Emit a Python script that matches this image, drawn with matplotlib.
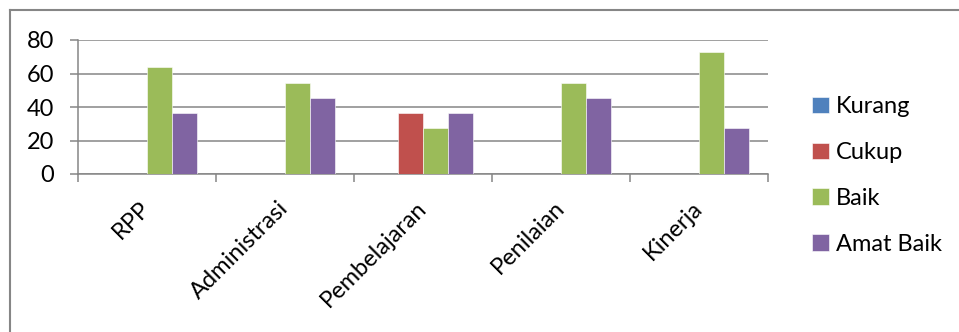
import matplotlib
import matplotlib.pyplot as plt
import numpy as np
from matplotlib.lines import Line2D

matplotlib.use("Agg")

categories = ["RPP", "Administrasi", "Pembelajaran", "Penilaian", "Kinerja"]
series_names = ["Kurang", "Cukup", "Baik", "Amat Baik"]
kurang = [0, 0, 0, 0, 0]
cukup = [0, 0, 36.4, 0, 0]
baik = [63.6, 54.5, 27.3, 54.5, 72.7]
amat_baik = [36.4, 45.5, 36.4, 45.5, 27.3]
y_ticks = [0, 20, 40, 60, 80]

COLORS = ["#4F81BD", "#C0504D", "#9BBB59", "#8064A2"]
GRID_COLOR = "#868686"
FONT_SIZE = 17

plt.rcParams["font.family"] = ["Lato", "DejaVu Sans"]

fig = plt.figure(figsize=(9.59, 3.32), dpi=100)
ax = fig.add_axes([78 / 959, 1 - 174 / 332, 690 / 959, 134 / 332])

x = np.arange(len(categories))
width = 25 / 138
for i, (name, vals) in enumerate(zip(series_names, [kurang, cukup, baik, amat_baik])):
    ax.bar(x + (i - 1.5) * width, vals, width, color=COLORS[i], label=name,
           edgecolor="white", linewidth=0.4, zorder=3)

ax.set_xlim(-0.5, len(categories) - 0.5)
ax.set_ylim(0, 80)
ax.set_yticks(y_ticks)
ax.yaxis.grid(True, color=GRID_COLOR, linewidth=1.1, zorder=0)
ax.set_axisbelow(True)

for side in ["top", "right"]:
    ax.spines[side].set_visible(False)
ax.spines["left"].set_color(GRID_COLOR)
ax.spines["bottom"].set_color(GRID_COLOR)
ax.spines["left"].set_linewidth(1.1)
ax.spines["bottom"].set_linewidth(1.1)

ax.tick_params(axis="y", length=6, width=1.1, color=GRID_COLOR, labelsize=FONT_SIZE, pad=11)
ax.set_xticks(x)
ax.set_xticklabels(categories, rotation=45, ha="right", va="center",
                   rotation_mode="anchor", fontsize=FONT_SIZE)
ax.tick_params(axis="x", length=0, pad=22)
ax.set_xticks(np.arange(-0.5, len(categories)), minor=True)
ax.tick_params(axis="x", which="minor", length=6, width=1.1, color=GRID_COLOR)

leg = fig.legend(loc="upper left", bbox_to_anchor=(803 / 959, 1 - 87 / 332),
                 frameon=False, fontsize=FONT_SIZE, handlelength=0.7, handleheight=0.7,
                 handletextpad=0.3, labelspacing=1.05, borderaxespad=0)

# outer chart border (only top and left visible in the crop)
fig.add_artist(Line2D([9.5 / 959, 1], [1 - 9.5 / 332, 1 - 9.5 / 332], color=GRID_COLOR,
                      linewidth=1.5, transform=fig.transFigure))
fig.add_artist(Line2D([9.5 / 959, 9.5 / 959], [0, 1 - 9.5 / 332], color=GRID_COLOR,
                      linewidth=1.5, transform=fig.transFigure))

fig.savefig("out.png", dpi=100)
